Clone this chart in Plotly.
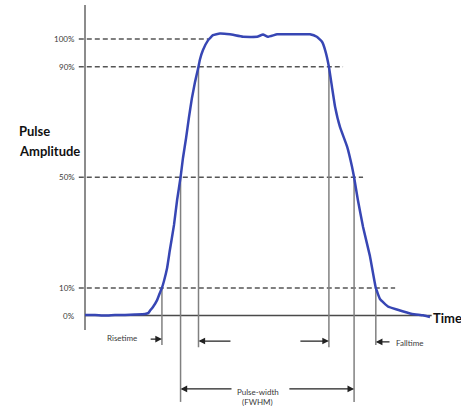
import plotly.graph_objects as go

# ---- data (time in arbitrary units 0..100, amplitude in % of peak) ----
time = [0, 2.9, 5.8, 8.7, 11.6, 14.5, 17.4, 18.3, 18.8, 19.7, 20.9, 21.7, 22.3, 22.9,
        23.8, 24.6, 25.8, 26.7, 27.7, 28.4, 29.3, 30.1, 31.0, 31.9, 32.9, 33.3, 34.2,
        35.7, 37.1, 39.1, 42.0, 45.8, 49.9, 51.6, 53.0, 55.7, 59.4, 65.2, 67.2, 68.7,
        69.6, 70.7, 71.6, 72.5, 73.9, 76.0, 77.4, 78.0, 79.1, 80.6, 82.6, 84.3, 85.5,
        87.8, 90.4, 94.8, 98.0, 100]
amplitude = [0.2, 0.2, 0.0, 0.2, 0.2, 0.4, 0.6, 0.9, 1.7, 3.1, 5.6, 8.2, 10.0, 12.5,
             17.2, 23.7, 32.8, 41.8, 50.0, 57.0, 64.2, 71.4, 78.7, 84.5, 90.0, 92.5, 96.0,
             99.6, 101.4, 102.0, 101.7, 100.8, 100.8, 101.6, 100.8, 101.7, 101.7, 101.7, 100.8, 99.0,
             96.0, 90.0, 82.6, 75.4, 68.2, 61.0, 53.8, 50.0, 41.8, 32.0, 21.5, 10.0, 6.0,
             3.3, 2.2, 0.6, 0.1, -0.5]

level_values = [100, 90, 50, 10]
level_labels = ["100%", "90%", "50%", "10%"]
level_ends = [35.7, 74.8, 80.6, 89.9]          # where each dashed reference stops

rise_times = [22.3, 27.7, 32.9]                 # crossings at 10%, 50%, 90% on the rising edge
fall_times = [70.7, 78.0, 84.3]                 # crossings at 90%, 50%, 10% on the falling edge

# ---- figure ----
fig = go.Figure()

DASH_COLOR = "#555555"
VLINE_COLOR = "#808080"
TXT = "#3a3a3a"
SMALL = "Lato, Liberation Sans, sans-serif"
BOLD = "Lato, Liberation Sans, sans-serif"

shapes = []
annotations = []

# y axis line
shapes.append(dict(type="line", x0=0, x1=0, y0=-5.2, y1=112.3,
                   line=dict(color="#8c8c8c", width=2), layer="below"))
# time axis line (0%)
shapes.append(dict(type="line", x0=0, x1=100.5, y0=0, y1=0,
                   line=dict(color="#4a4a4a", width=1.5), layer="below"))

# dashed reference levels + labels
for v, lab, xe in zip(level_values, level_labels, level_ends):
    shapes.append(dict(type="line", x0=-1.8, x1=xe, y0=v, y1=v,
                       line=dict(color=DASH_COLOR, width=1.5, dash="5px,3px"), layer="below"))
    annotations.append(dict(x=-2.3, y=v, text=lab, showarrow=False, xanchor="right",
                            yanchor="middle", font=dict(family=SMALL, size=8, color=TXT)))
annotations.append(dict(x=-2.3, y=0, text="0%", showarrow=False, xanchor="right",
                        yanchor="middle", font=dict(family=SMALL, size=8, color=TXT)))

# vertical markers at the crossings
lvl_for = {0: 10, 1: 50, 2: 90}
bottom_for = {0: -10.6, 1: -31.2, 2: -11.4}
for i, t in enumerate(rise_times):
    shapes.append(dict(type="line", x0=t, x1=t, y0=bottom_for[i], y1=lvl_for[i],
                       line=dict(color=VLINE_COLOR, width=1.5), layer="below"))
for i, t in enumerate(fall_times):
    j = 2 - i
    shapes.append(dict(type="line", x0=t, x1=t, y0=bottom_for[j], y1=lvl_for[j],
                       line=dict(color=VLINE_COLOR, width=1.5), layer="below"))


def arrow(head_x, tail_x, y):
    annotations.append(dict(x=head_x, y=y, ax=tail_x, ay=y, xref="x", yref="y",
                            axref="x", ayref="y", text="", showarrow=True,
                            arrowhead=2, arrowsize=1.1, arrowwidth=1.2,
                            arrowcolor="#222222", standoff=0, startstandoff=0))


# risetime
arrow(rise_times[0], 18.6, -8.5)
annotations.append(dict(x=15.7, y=-8.0, text="Risetime", showarrow=False, xanchor="right",
                        font=dict(family=SMALL, size=8, color=TXT)))
# 90% -> 90% width arrows
arrow(rise_times[2], 42.6, -9.2)
arrow(fall_times[0], 62.0, -9.2)
# falltime
arrow(fall_times[2], 88.7, -9.5)
annotations.append(dict(x=89.6, y=-9.9, text="Falltime", showarrow=False, xanchor="left",
                        font=dict(family=SMALL, size=8, color=TXT)))
# pulse width (FWHM)
arrow(rise_times[1], 42.9, -26.5)
arrow(fall_times[1], 58.8, -26.5)
annotations.append(dict(x=50.1, y=-27.6, text="Pulse-width", showarrow=False,
                        font=dict(family=SMALL, size=8, color=TXT)))
annotations.append(dict(x=50.1, y=-31.3, text="(FWHM)", showarrow=False,
                        font=dict(family=SMALL, size=8, color=TXT)))

# axis titles
annotations.append(dict(x=-19.7, y=66.7, text="<b>Pulse</b>", showarrow=False,
                        xanchor="left", yanchor="middle",
                        font=dict(family=BOLD, size=13, color="#111111")))
annotations.append(dict(x=-19.7, y=59.5, text="<b>Amplitude</b>", showarrow=False,
                        xanchor="left", yanchor="middle",
                        font=dict(family=BOLD, size=13, color="#111111")))
annotations.append(dict(x=100.4, y=-0.9, text="<b>Time</b>", showarrow=False,
                        xanchor="left", yanchor="middle",
                        font=dict(family=BOLD, size=13, color="#111111")))

fig.add_trace(go.Scatter(x=time, y=amplitude, mode="lines",
                         line=dict(color="#3746b4", width=2.5, shape="spline", smoothing=0.3),
                         hoverinfo="skip", showlegend=False))

fig.update_layout(
    width=461, height=406,
    margin=dict(l=0, r=0, t=0, b=0, pad=0),
    paper_bgcolor="white", plot_bgcolor="white",
    xaxis=dict(visible=False, range=[-24.64, 108.99], fixedrange=True),
    yaxis=dict(visible=False, range=[-32.68, 114.10], fixedrange=True),
    shapes=shapes, annotations=annotations, showlegend=False,
)

fig.write_html("out.html", config={"displayModeBar": False},
               post_script="document.body.style.margin='0px';document.body.style.overflow='hidden';")
